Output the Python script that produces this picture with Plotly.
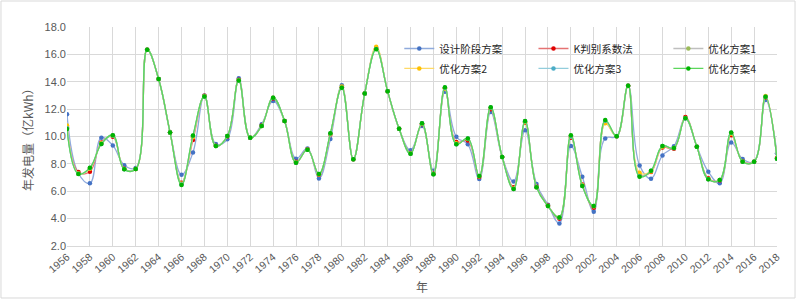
import plotly.graph_objects as go

years = list(range(1956, 2019))

design = [11.62, 7.30, 6.58, 9.91, 9.35, 7.90, 7.70, 16.34, 14.20, 10.30,
          7.21, 8.84, 13.00, 9.45, 9.80, 14.25, 9.91, 10.90, 12.60, 11.13,
          8.38, 9.13, 6.94, 9.81, 13.74, 8.33, 13.15, 16.45, 13.30, 10.57,
          8.99, 10.77, 7.50, 13.27, 9.98, 9.43, 6.89, 11.79, 8.50, 6.72,
          10.45, 6.53, 5.02, 3.65, 9.30, 7.06, 4.50, 9.86, 10.01, 13.71,
          7.89, 6.92, 8.62, 9.28, 11.33, 9.26, 7.43, 6.58, 9.57, 8.35,
          8.16, 12.66, 8.77]

kmethod = [10.70, 7.40, 7.43, 9.57, 9.98, 7.65, 7.62, 16.34, 14.20, 10.30,
           6.63, 9.74, 12.97, 9.32, 10.00, 14.15, 9.91, 10.80, 12.78, 11.13,
           8.15, 9.06, 7.20, 10.15, 13.60, 8.33, 13.15, 16.45, 13.30, 10.57,
           8.80, 10.90, 7.30, 13.50, 9.60, 9.70, 7.05, 12.00, 8.50, 6.30,
           11.00, 6.35, 4.95, 4.00, 9.90, 6.50, 4.80, 11.00, 10.01, 13.71,
           7.20, 7.40, 9.20, 9.10, 11.42, 9.26, 6.95, 6.78, 10.10, 8.20,
           8.16, 12.85, 8.45]

opt1 = [10.65, 7.28, 7.68, 9.48, 10.08, 7.62, 7.62, 16.34, 14.20, 10.30,
        6.55, 10.00, 12.93, 9.30, 10.03, 14.10, 9.91, 10.77, 12.83, 11.13,
        8.10, 9.04, 7.25, 10.20, 13.58, 8.33, 13.15, 16.40, 13.30, 10.57,
        8.75, 10.95, 7.25, 13.55, 9.45, 9.84, 7.10, 12.10, 8.50, 6.18,
        11.10, 6.30, 4.92, 4.08, 10.05, 6.40, 4.90, 11.10, 10.01, 13.71,
        7.15, 7.48, 9.28, 9.16, 11.35, 9.26, 6.88, 6.82, 10.25, 8.16,
        8.16, 12.88, 8.40]

opt2 = [10.80, 7.30, 7.65, 9.50, 10.05, 7.62, 7.62, 16.34, 14.20, 10.30,
        6.55, 9.95, 12.95, 9.30, 10.03, 14.12, 9.91, 10.77, 12.83, 11.13,
        8.10, 9.04, 7.25, 10.20, 13.65, 8.33, 13.15, 16.56, 13.30, 10.57,
        8.76, 10.94, 7.26, 13.50, 9.50, 9.82, 7.10, 12.08, 8.50, 6.20,
        11.05, 6.30, 4.92, 4.10, 10.00, 6.45, 4.90, 10.96, 10.01, 13.71,
        7.36, 7.45, 9.25, 9.16, 11.35, 9.26, 6.90, 6.82, 10.20, 8.16,
        8.16, 12.95, 8.40]

opt3 = [10.60, 7.27, 7.70, 9.46, 10.08, 7.60, 7.62, 16.34, 14.20, 10.30,
        6.50, 10.05, 12.93, 9.30, 10.03, 14.10, 9.91, 10.77, 12.83, 11.13,
        8.09, 9.04, 7.26, 10.22, 13.57, 8.33, 13.15, 16.40, 13.30, 10.57,
        8.74, 10.96, 7.24, 13.57, 9.44, 9.85, 7.11, 12.12, 8.50, 6.17,
        11.12, 6.29, 4.92, 4.09, 10.00, 6.40, 4.92, 11.15, 10.01, 13.71,
        7.10, 7.50, 9.30, 9.16, 11.33, 9.26, 6.87, 6.82, 10.28, 8.16,
        8.16, 12.90, 8.38]

opt4 = [10.55, 7.26, 7.72, 9.45, 10.10, 7.60, 7.62, 16.34, 14.20, 10.30,
        6.46, 10.08, 12.93, 9.30, 10.03, 14.10, 9.91, 10.77, 12.83, 11.13,
        8.09, 9.04, 7.26, 10.23, 13.56, 8.33, 13.15, 16.37, 13.30, 10.57,
        8.74, 10.96, 7.24, 13.59, 9.43, 9.86, 7.11, 12.13, 8.50, 6.16,
        11.13, 6.29, 4.92, 4.09, 10.09, 6.38, 4.92, 11.20, 10.01, 13.71,
        7.06, 7.50, 9.30, 9.16, 11.33, 9.26, 6.87, 6.82, 10.30, 8.16,
        8.16, 12.90, 8.38]

names = ["设计阶段方案", "K判别系数法", "优化方案1", "优化方案2", "优化方案3", "优化方案4"]
series = [design, kmethod, opt1, opt2, opt3, opt4]
line_colors = ["#8FAADC", "#E57373", "#BFBFBF", "#FFD966", "#92CDDC", "#5CD65C"]
marker_colors = ["#4472C4", "#E00000", "#9BBB59", "#FFC000", "#4BACC6", "#00B400"]
legend_ids = ["legend", "legend2", "legend3", "legend4", "legend5", "legend6"]
legend_x = [0.468, 0.657, 0.847, 0.468, 0.657, 0.847]
legend_y = [0.968, 0.968, 0.968, 0.877, 0.877, 0.877]

fig = go.Figure()
for nm, vals, lc, mc, lg in zip(names, series, line_colors, marker_colors, legend_ids):
    fig.add_trace(go.Scatter(
        x=years, y=vals, name=nm, mode="lines+markers",
        line=dict(color=lc, width=1.3, shape="spline", smoothing=1.15),
        marker=dict(color=mc, size=4.5, symbol="circle"),
        legend=lg,
    ))

font_cjk = "Noto Sans CJK SC, Liberation Sans, sans-serif"
legend_layout = {}
for lg, lx, ly in zip(legend_ids, legend_x, legend_y):
    legend_layout[lg] = dict(
        x=lx, y=ly, orientation="h", xanchor="left", yanchor="top",
        bgcolor="rgba(0,0,0,0)", itemwidth=30,
        font=dict(family=font_cjk, size=10.5, color="#262626"),
    )

fig.update_layout(
    width=797, height=301,
    margin=dict(l=67, r=20, t=27, b=55),
    paper_bgcolor="white", plot_bgcolor="white",
    showlegend=True,
    **legend_layout,
    xaxis=dict(
        range=[1956, 2018], tickmode="linear", tick0=1956, dtick=2,
        tickangle=-40, showgrid=True, gridcolor="#D9D9D9", gridwidth=1,
        zeroline=False, showline=True, linecolor="#D9D9D9", mirror=False,
        tickfont=dict(family="Liberation Sans, Arial, sans-serif", size=10.5, color="#595959"),
        ticks="",
    ),
    yaxis=dict(
        range=[2, 18], tickmode="linear", tick0=2, dtick=2, tickformat=".1f",
        showgrid=True, gridcolor="#D9D9D9", gridwidth=1, zeroline=False,
        showline=False, ticks="",
        tickfont=dict(family="Liberation Sans, Arial, sans-serif", size=11, color="#595959"),
    ),
    annotations=[
        dict(text="年", xref="paper", yref="paper", x=0.5, y=-0.187,
             xanchor="center", yanchor="middle", showarrow=False,
             font=dict(family=font_cjk, size=12, color="#595959")),
        dict(text="年发电量（亿kWh）", xref="paper", yref="paper", x=-0.0549, y=0.498,
             xanchor="center", yanchor="middle", showarrow=False, textangle=-90,
             font=dict(family=font_cjk, size=12, color="#595959")),
    ],
    shapes=[dict(type="rect", xref="paper", yref="paper",
                 x0=-0.093, x1=1.0254, y0=-0.2374, y1=1.1187,
                 line=dict(color="#D9D9D9", width=1), layer="below")],
)

fig.write_html("out.html", config={"displayModeBar": False},
               post_script="document.body.style.margin='0px';document.body.style.overflow='hidden';")
